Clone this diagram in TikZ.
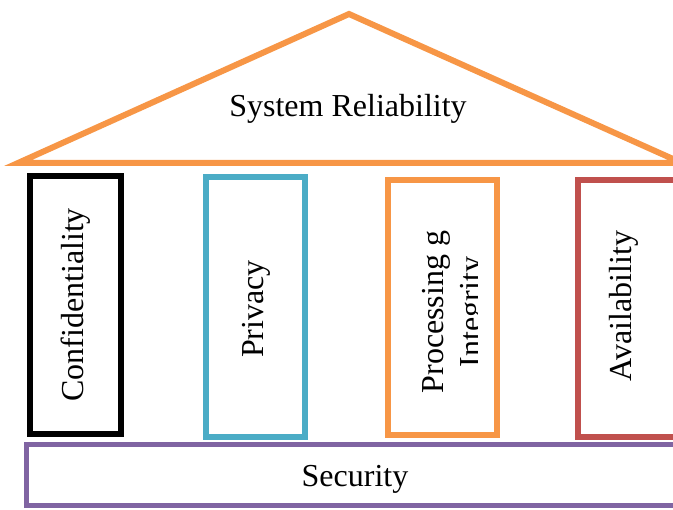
\documentclass[tikz,border=0pt]{standalone}
\usepackage{fontspec}
\setmainfont{Liberation Serif}
\definecolor{roofc}{HTML}{F79646}
\definecolor{privc}{HTML}{4BACC6}
\definecolor{availc}{HTML}{C0504D}
\definecolor{secc}{HTML}{8064A2}
\tikzset{
  pillar/.style={draw, line width=6pt, rectangle, inner sep=0pt},
  label32/.style={font=\fontsize{32}{33}\selectfont, inner sep=0pt},
}
\begin{document}
\begin{tikzpicture}[x=1pt, y=-1pt]
  \useasboundingbox (0,0) rectangle (673,510);
  \clip (0,0) rectangle (673,510);
  % roof
  \draw[roofc, line width=6pt, line join=miter] (18,163) -- (349,14) -- (682,163) -- cycle;
  \node[label32] (roof) at (348,109) {System Reliability};
  % pillars
  \node[pillar, draw=black, minimum width=91pt, minimum height=258pt] (conf) at (75.5,305) {};
  \node[label32, rotate=90] (conft) at (76,305) {Confidentiality};
  \node[pillar, draw=privc, minimum width=99pt, minimum height=260pt] (priv) at (255.5,307) {};
  \node[label32, rotate=90] (privt) at (256,309) {Privacy};
  \node[pillar, draw=roofc, minimum width=109pt, minimum height=255pt] (proc) at (442.5,307.5) {};
  \begin{scope}
    \clip (385,180) rectangle (477,435);
    \node[label32, rotate=90, align=center, font=\fontsize{32}{38}\selectfont] (proct) at (455,312) {Processing g\\Integrity};
  \end{scope}
  \node[pillar, draw=availc, minimum width=122pt, minimum height=257pt] (avail) at (639,308.5) {};
  \node[label32, rotate=90] (availt) at (624,306) {Availability};
  % base
  \node[pillar, draw=secc, line width=5pt, minimum width=680pt, minimum height=61pt] (sec) at (366,475.5) {};
  \node[label32] (sect) at (355,479) {Security};
\end{tikzpicture}
\end{document}
